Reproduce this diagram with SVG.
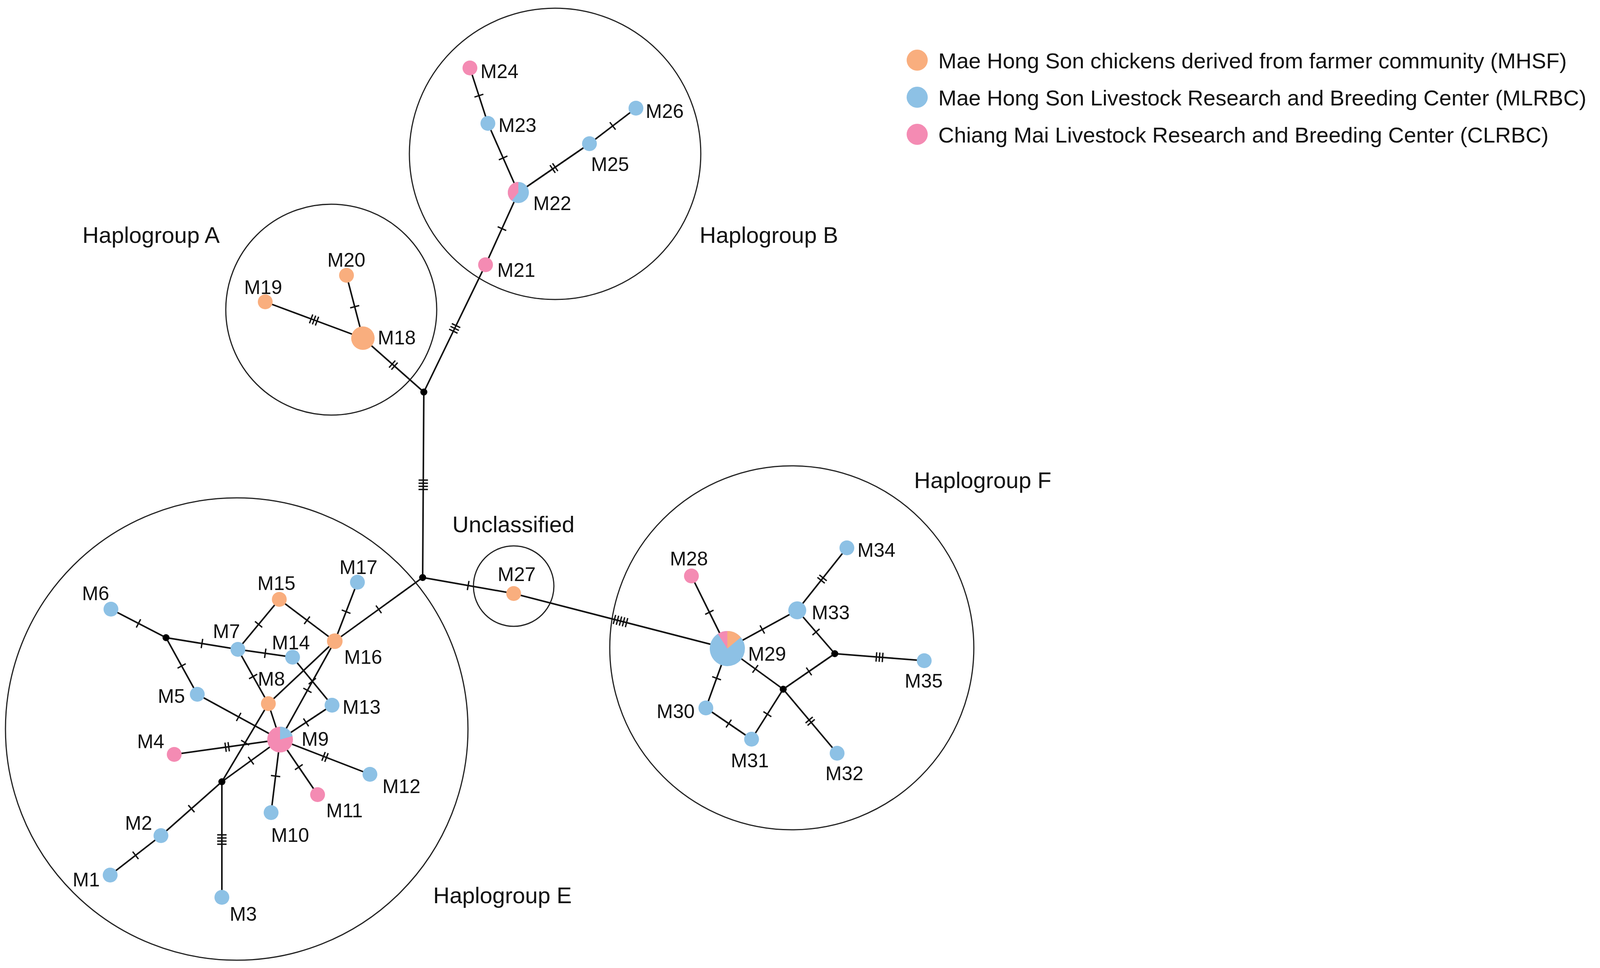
<svg xmlns="http://www.w3.org/2000/svg" width="4242" height="2479" viewBox="0 0 4242 2479">
<style>
.e{fill:none;stroke:#111;stroke-width:4}
.g{fill:none;stroke:#222;stroke-width:3}
.o{fill:#F9AE7E}.b{fill:#8DC1E5}.p{fill:#F48BB3}.j{fill:#000}
text{font-family:"Liberation Sans",Arial,sans-serif;fill:#111}
.l{font-size:50px}.h{font-size:58px}.k{font-size:56px}
.t{stroke:#111;stroke-width:3.5}
</style>
<defs>
<marker id="t1" markerUnits="userSpaceOnUse" markerWidth="60" markerHeight="60" viewBox="-30 -30 60 60" refX="0" refY="0" orient="auto"><line class="t" x1="0" y1="-12" x2="0" y2="12"/></marker>
<marker id="t2" markerUnits="userSpaceOnUse" markerWidth="60" markerHeight="60" viewBox="-30 -30 60 60" refX="0" refY="0" orient="auto"><line class="t" x1="-4" y1="-12" x2="-4" y2="12"/><line class="t" x1="4" y1="-12" x2="4" y2="12"/></marker>
<marker id="t3" markerUnits="userSpaceOnUse" markerWidth="60" markerHeight="60" viewBox="-30 -30 60 60" refX="0" refY="0" orient="auto"><line class="t" x1="-8" y1="-12" x2="-8" y2="12"/><line class="t" x1="0" y1="-12" x2="0" y2="12"/><line class="t" x1="8" y1="-12" x2="8" y2="12"/></marker>
<marker id="t4" markerUnits="userSpaceOnUse" markerWidth="60" markerHeight="60" viewBox="-30 -30 60 60" refX="0" refY="0" orient="auto"><line class="t" x1="-12" y1="-12" x2="-12" y2="12"/><line class="t" x1="-4" y1="-12" x2="-4" y2="12"/><line class="t" x1="4" y1="-12" x2="4" y2="12"/><line class="t" x1="12" y1="-12" x2="12" y2="12"/></marker>
<marker id="t5" markerUnits="userSpaceOnUse" markerWidth="60" markerHeight="60" viewBox="-30 -30 60 60" refX="0" refY="0" orient="auto"><line class="t" x1="-16" y1="-12" x2="-16" y2="12"/><line class="t" x1="-8" y1="-12" x2="-8" y2="12"/><line class="t" x1="0" y1="-12" x2="0" y2="12"/><line class="t" x1="8" y1="-12" x2="8" y2="12"/><line class="t" x1="16" y1="-12" x2="16" y2="12"/></marker>
</defs>
<rect width="4242" height="2479" fill="#fff"/>
<g id="groups">
<circle class="g" cx="848" cy="793" r="270"/>
<circle class="g" cx="1421" cy="394" r="373"/>
<circle class="g" cx="606" cy="1867" r="592"/>
<circle class="g" cx="1315" cy="1501" r="103"/>
<circle class="g" cx="2027" cy="1659" r="466"/>
<text class="h" x="211" y="622">Haplogroup A</text>
<text class="h" x="1791" y="622">Haplogroup B</text>
<text class="h" x="2340" y="1250">Haplogroup F</text>
<text class="h" x="1109" y="2313">Haplogroup E</text>
<text class="h" x="1158" y="1363">Unclassified</text>
</g>
<g id="connectors">
<path class="e" marker-mid="url(#t2)" d="M1085 1004L1007 935L929 866"/>
<path class="e" marker-mid="url(#t3)" d="M1085 1004L1164 841L1243 678"/>
<path class="e" marker-mid="url(#t1)" d="M1243 678L1285 585.5L1327 493"/>
<path class="e" marker-mid="url(#t1)" d="M1327 493L1288 404.5L1249 316"/>
<path class="e" marker-mid="url(#t1)" d="M1249 316L1226 245L1203 174"/>
<path class="e" marker-mid="url(#t2)" d="M1327 493L1418 430.5L1509 368"/>
<path class="e" marker-mid="url(#t1)" d="M1509 368L1568.5 322.5L1628 277"/>
<path class="e" marker-mid="url(#t3)" d="M929 866L804 819.5L679 773"/>
<path class="e" marker-mid="url(#t1)" d="M929 866L908 785.5L887 705"/>
<path class="e" marker-mid="url(#t4)" d="M1085 1004L1083.5 1241.5L1082 1479"/>
<path class="e" marker-mid="url(#t1)" d="M1082 1479L1198.5 1499.5L1315 1520"/>
<path class="e" marker-mid="url(#t5)" d="M1315 1520L1588.5 1590.5L1862 1661"/>
<path class="e" marker-mid="url(#t1)" d="M1082 1479L969.5 1560.5L857 1642"/>
<path class="e" marker-mid="url(#t1)" d="M284 1560L354.5 1596.5L425 1633"/>
<path class="e" marker-mid="url(#t1)" d="M425 1633L517 1648L609 1663"/>
<path class="e" marker-mid="url(#t1)" d="M425 1633L465 1705.5L505 1778"/>
<path class="e" marker-mid="url(#t1)" d="M609 1663L662 1599L715 1535"/>
<path class="e" marker-mid="url(#t1)" d="M715 1535L786 1588.5L857 1642"/>
<path class="e" marker-mid="url(#t1)" d="M609 1663L679 1673L749 1683"/>
<path class="e" marker-mid="url(#t1)" d="M749 1683L799.5 1744.5L850 1806"/>
<path class="e" marker-mid="url(#t1)" d="M609 1663L648 1732.5L687 1802"/>
<path class="e" d="M687 1802L717 1894"/>
<path class="e" marker-mid="url(#t1)" d="M857 1642L886 1566.5L915 1491"/>
<path class="e" d="M857 1642L687 1802"/>
<path class="e" marker-mid="url(#t1)" d="M857 1642L787 1768L717 1894"/>
<path class="e" marker-mid="url(#t1)" d="M687 1802L627.5 1902L568 2002"/>
<path class="e" marker-mid="url(#t1)" d="M717 1894L611 1836L505 1778"/>
<path class="e" marker-mid="url(#t2)" d="M717 1894L581.5 1913L446 1932"/>
<path class="e" marker-mid="url(#t1)" d="M717 1894L783.5 1850L850 1806"/>
<path class="e" marker-mid="url(#t2)" d="M717 1894L832 1938.5L947 1983"/>
<path class="e" marker-mid="url(#t1)" d="M717 1894L765 1964.5L813 2035"/>
<path class="e" marker-mid="url(#t1)" d="M717 1894L705.5 1987.5L694 2081"/>
<path class="e" marker-mid="url(#t1)" d="M717 1894L642.5 1948L568 2002"/>
<path class="e" marker-mid="url(#t1)" d="M568 2002L490 2071L412 2140"/>
<path class="e" marker-mid="url(#t1)" d="M412 2140L347 2190.5L282 2241"/>
<path class="e" marker-mid="url(#t4)" d="M568 2002L568 2150L568 2298"/>
<path class="e" marker-mid="url(#t1)" d="M1770 1475L1816 1568L1862 1661"/>
<path class="e" marker-mid="url(#t1)" d="M1862 1661L1951.5 1612L2041 1563"/>
<path class="e" marker-mid="url(#t2)" d="M2041 1563L2104.5 1483L2168 1403"/>
<path class="e" marker-mid="url(#t1)" d="M2041 1563L2089 1618.5L2137 1674"/>
<path class="e" marker-mid="url(#t3)" d="M2137 1674L2251.5 1683L2366 1692"/>
<path class="e" marker-mid="url(#t1)" d="M2137 1674L2071 1719.5L2005 1765"/>
<path class="e" marker-mid="url(#t1)" d="M2005 1765L1933.5 1713L1862 1661"/>
<path class="e" marker-mid="url(#t2)" d="M2005 1765L2074 1847L2143 1929"/>
<path class="e" marker-mid="url(#t1)" d="M2005 1765L1964.5 1829L1924 1893"/>
<path class="e" marker-mid="url(#t1)" d="M1924 1893L1865.5 1853L1807 1813"/>
<path class="e" marker-mid="url(#t1)" d="M1807 1813L1834.5 1737L1862 1661"/>
</g>
<g id="junctions">
<circle class="j" cx="1085" cy="1004" r="9"/>
<circle class="j" cx="1082" cy="1479" r="9"/>
<circle class="j" cx="425" cy="1633" r="9"/>
<circle class="j" cx="568" cy="2002" r="9"/>
<circle class="j" cx="2137" cy="1674" r="9"/>
<circle class="j" cx="2005" cy="1765" r="9"/>
</g>
<g id="M1"><circle class="b" cx="282" cy="2241" r="19"/><text class="l" x="186" y="2270">M1</text></g>
<g id="M2"><circle class="b" cx="412" cy="2140" r="19"/><text class="l" x="320" y="2125">M2</text></g>
<g id="M3"><circle class="b" cx="568" cy="2298" r="19"/><text class="l" x="588" y="2358">M3</text></g>
<g id="M4"><circle class="p" cx="446" cy="1932" r="19"/><text class="l" x="351" y="1916">M4</text></g>
<g id="M5"><circle class="b" cx="505" cy="1778" r="19"/><text class="l" x="404" y="1800">M5</text></g>
<g id="M6"><circle class="b" cx="284" cy="1560" r="19"/><text class="l" x="210" y="1537">M6</text></g>
<g id="M7"><circle class="b" cx="609" cy="1663" r="19"/><text class="l" x="545" y="1634">M7</text></g>
<g id="M8"><circle class="o" cx="687" cy="1802" r="19"/><text class="l" x="660" y="1756">M8</text></g>
<g id="M9"><circle class="p" cx="717" cy="1894" r="33"/><path class="b" d="M717 1894L717 1861A33 33 0 0 1 749 1885Z"/><text class="l" x="772" y="1910">M9</text></g>
<g id="M10"><circle class="b" cx="694" cy="2081" r="19"/><text class="l" x="694" y="2156">M10</text></g>
<g id="M11"><circle class="p" cx="813" cy="2035" r="19"/><text class="l" x="835" y="2093">M11</text></g>
<g id="M12"><circle class="b" cx="947" cy="1983" r="19"/><text class="l" x="979" y="2031">M12</text></g>
<g id="M13"><circle class="b" cx="850" cy="1806" r="19"/><text class="l" x="877" y="1828">M13</text></g>
<g id="M14"><circle class="b" cx="749" cy="1683" r="19"/><text class="l" x="696" y="1663">M14</text></g>
<g id="M15"><circle class="o" cx="715" cy="1535" r="19"/><text class="l" x="659" y="1511">M15</text></g>
<g id="M16"><circle class="o" cx="857" cy="1642" r="20"/><text class="l" x="881" y="1700">M16</text></g>
<g id="M17"><circle class="b" cx="915" cy="1491" r="19"/><text class="l" x="869" y="1470">M17</text></g>
<g id="M18"><circle class="o" cx="929" cy="866" r="30"/><text class="l" x="967" y="882">M18</text></g>
<g id="M19"><circle class="o" cx="679" cy="773" r="19"/><text class="l" x="625" y="753">M19</text></g>
<g id="M20"><circle class="o" cx="887" cy="705" r="19"/><text class="l" x="838" y="683">M20</text></g>
<g id="M21"><circle class="p" cx="1243" cy="678" r="19"/><text class="l" x="1273" y="709">M21</text></g>
<g id="M22"><circle class="b" cx="1327" cy="493" r="27"/><path class="p" d="M1327 493L1327 466A27 27 0 0 0 1310 514Z"/><text class="l" x="1365" y="538">M22</text></g>
<g id="M23"><circle class="b" cx="1249" cy="316" r="19"/><text class="l" x="1276" y="338">M23</text></g>
<g id="M24"><circle class="p" cx="1203" cy="174" r="19"/><text class="l" x="1230" y="200">M24</text></g>
<g id="M25"><circle class="b" cx="1509" cy="368" r="19"/><text class="l" x="1513" y="438">M25</text></g>
<g id="M26"><circle class="b" cx="1628" cy="277" r="19"/><text class="l" x="1653" y="302">M26</text></g>
<g id="M27"><circle class="o" cx="1315" cy="1520" r="19"/><text class="l" x="1274" y="1488">M27</text></g>
<g id="M28"><circle class="p" cx="1770" cy="1475" r="19"/><text class="l" x="1715" y="1448">M28</text></g>
<g id="M29"><circle class="b" cx="1862" cy="1661" r="45"/><path class="p" d="M1862 1661L1837.5 1623.3A45 45 0 0 1 1862 1616Z"/><path class="o" d="M1862 1661L1862 1616A45 45 0 0 1 1896.5 1632.1Z"/><text class="l" x="1915" y="1692">M29</text></g>
<g id="M30"><circle class="b" cx="1807" cy="1813" r="19"/><text class="l" x="1681" y="1839">M30</text></g>
<g id="M31"><circle class="b" cx="1924" cy="1893" r="19"/><text class="l" x="1871" y="1965">M31</text></g>
<g id="M32"><circle class="b" cx="2143" cy="1929" r="19"/><text class="l" x="2113" y="1998">M32</text></g>
<g id="M33"><circle class="b" cx="2041" cy="1563" r="23"/><text class="l" x="2078" y="1586">M33</text></g>
<g id="M34"><circle class="b" cx="2168" cy="1403" r="19"/><text class="l" x="2195" y="1426">M34</text></g>
<g id="M35"><circle class="b" cx="2366" cy="1692" r="19"/><text class="l" x="2316" y="1761">M35</text></g>
<g id="legend">
<circle class="o" cx="2348" cy="154" r="27"/><text class="k" x="2402" y="175">Mae Hong Son chickens derived from farmer community (MHSF)</text>
<circle class="b" cx="2348" cy="249" r="27"/><text class="k" x="2402" y="270">Mae Hong Son Livestock Research and Breeding Center (MLRBC)</text>
<circle class="p" cx="2348" cy="344" r="27"/><text class="k" x="2402" y="365">Chiang Mai Livestock Research and Breeding Center (CLRBC)</text>
</g>
</svg>
